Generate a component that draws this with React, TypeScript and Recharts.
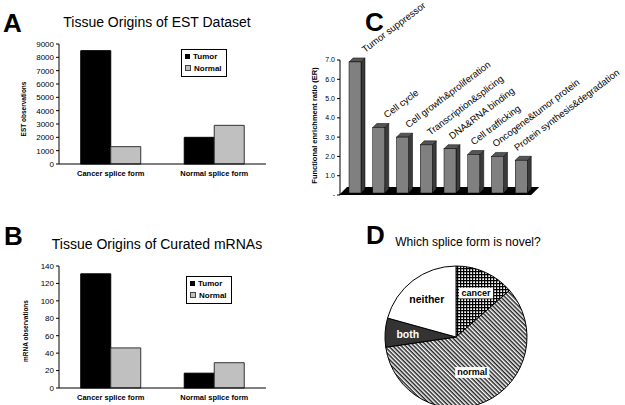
import React from "react";
import {
  BarChart,
  Bar,
  XAxis,
  YAxis,
  Legend,
  LabelList,
  PieChart,
  Pie,
  Cell,
} from "recharts";

// ---------------------------------------------------------------------------
// Data
// ---------------------------------------------------------------------------

const SPLICE_FORMS = ["Cancer splice form", "Normal splice form"];

const EST_TUMOR = [8500, 2000];
const EST_NORMAL = [1300, 2900];
const EST_TICKS = [0, 1000, 2000, 3000, 4000, 5000, 6000, 7000, 8000, 9000];

const MRNA_TUMOR = [131, 17];
const MRNA_NORMAL = [46, 29];
const MRNA_TICKS = [0, 20, 40, 60, 80, 100, 120, 140];

const FUNCTIONS = [
  "Tumor suppressor",
  "Cell cycle",
  "Cell growth&proliferation",
  "Transcription&splicing",
  "DNA&RNA binding",
  "Cell trafficking",
  "Oncogene&tumor protein",
  "Protein synthesis&degradation",
];
const ER_VALUES = [6.9, 3.5, 3.0, 2.6, 2.4, 2.1, 2.0, 1.8];
const ER_TICKS = [0, 1, 2, 3, 4, 5, 6, 7];

const NOVEL_FORMS = ["cancer", "normal", "both", "neither"];
const NOVEL_SHARES = [13.6, 59.1, 6.6, 20.7];

// ---------------------------------------------------------------------------
// Constants
// ---------------------------------------------------------------------------

const FONT = '"Liberation Sans", Arial, sans-serif';
const TUMOR_COLOR = "#000000";
const NORMAL_COLOR = "#c0c0c0";
const PIE_FILLS: Record<string, string> = {
  cancer: "url(#gridPat)",
  normal: "url(#diagPat)",
  both: "#333333",
  neither: "#ffffff",
};

// ---------------------------------------------------------------------------
// Helpers
// ---------------------------------------------------------------------------

function AxisTitle(props: any) {
  const vb = props.viewBox || { x: 0, y: 0, width: 0, height: 0 };
  const cx = vb.x + vb.width / 2 + (props.dx || 0);
  const cy = vb.y + vb.height / 2 + (props.dy || 0);
  return (
    <text
      x={cx}
      y={cy}
      transform={`rotate(-90 ${cx} ${cy})`}
      textAnchor="middle"
      dominantBaseline="middle"
      fontFamily={FONT}
      fontWeight="bold"
      fontSize={props.size}
      fill="#000"
    >
      {props.text}
    </text>
  );
}

const renderLegend = () => (
  <div
    style={{
      border: "1px solid #000",
      background: "#fff",
      padding: "1px 4px 1px 3px",
      fontFamily: FONT,
      fontSize: 8,
      fontWeight: "bold",
      lineHeight: "12px",
      color: "#000",
    }}
  >
    <div>
      <span
        style={{
          display: "inline-block",
          width: 5,
          height: 5,
          background: TUMOR_COLOR,
          marginRight: 3,
        }}
      />
      Tumor
    </div>
    <div>
      <span
        style={{
          display: "inline-block",
          width: 4,
          height: 4,
          background: NORMAL_COLOR,
          border: "1px solid #444",
          marginRight: 3,
        }}
      />
      Normal
    </div>
  </div>
);

interface OriginProps {
  tumor: number[];
  normal: number[];
  ticks: number[];
  yLabel: string;
  top: number;
  height: number;
  legendPos: { left: number; top: number };
  labelShift: { dx: number; dy: number };
}

function OriginChart({
  tumor,
  normal,
  ticks,
  yLabel,
  top,
  height,
  legendPos,
  labelShift,
}: OriginProps) {
  const data = SPLICE_FORMS.map((form, i) => ({
    form,
    tumor: tumor[i],
    normal: normal[i],
  }));
  return (
    <div style={{ position: "absolute", left: 0, top }}>
      <BarChart
        width={300}
        height={height}
        data={data}
        margin={{ top: 44, right: 34, bottom: 6, left: 0 }}
        barCategoryGap="21%"
        barGap={0}
      >
        <XAxis
          dataKey="form"
          tickLine={false}
          axisLine={{ stroke: "#000" }}
          tickSize={5}
          tickMargin={2}
          tick={{ fontSize: 7.5, fontWeight: "bold", fill: "#000", fontFamily: FONT }}
        />
        <YAxis
          width={59}
          domain={[0, ticks[ticks.length - 1]]}
          ticks={ticks}
          interval={0}
          tickSize={3}
          axisLine={{ stroke: "#000" }}
          tickLine={{ stroke: "#000" }}
          tick={{ fontSize: 8, fill: "#000", fontFamily: FONT }}
          label={
            <AxisTitle
              text={yLabel}
              size={6.5}
              dx={labelShift.dx}
              dy={labelShift.dy}
            />
          }
        />
        <Legend
          layout="vertical"
          align="center"
          verticalAlign="middle"
          content={renderLegend}
          wrapperStyle={{ left: legendPos.left, top: legendPos.top, width: "auto" }}
        />
        <Bar
          dataKey="tumor"
          name="Tumor"
          fill={TUMOR_COLOR}
          stroke="#000"
          strokeWidth={1}
          isAnimationActive={false}
        />
        <Bar
          dataKey="normal"
          name="Normal"
          fill={NORMAL_COLOR}
          stroke="#333"
          strokeWidth={1}
          isAnimationActive={false}
        />
      </BarChart>
    </div>
  );
}

// 3D-looking bar: front face, top and side faces
function Bar3D(props: any) {
  const { x, y, width, height } = props;
  if (height == null || height <= 0) return null;
  const base = y + height;
  const fw = width * 0.5;
  const fx = x + (width - fw) / 2 + 3;
  const d = 4;
  const bottom = base - 2;
  return (
    <g>
      <polygon
        points={`${fx + fw},${y} ${fx + fw + d},${y - d} ${fx + fw + d},${bottom - d} ${fx + fw},${bottom}`}
        fill="#3a3a3a"
        stroke="#000"
        strokeWidth={0.5}
      />
      <polygon
        points={`${fx},${y} ${fx + d},${y - d} ${fx + fw + d},${y - d} ${fx + fw},${y}`}
        fill="#555555"
        stroke="#000"
        strokeWidth={0.5}
      />
      <rect
        x={fx}
        y={y}
        width={fw}
        height={bottom - y}
        fill="#808080"
        stroke="#000"
        strokeWidth={0.5}
      />
    </g>
  );
}

// black floor segment under every category
function Floor(props: any) {
  const { x, y, width, height } = props;
  const base = y + height;
  const d = 8;
  const l = x - 1;
  const r = x + width + 1;
  return (
    <polygon
      points={`${l},${base} ${r},${base} ${r + d},${base - d} ${l + d},${base - d}`}
      fill="#000"
    />
  );
}

const renderFnLabel = (props: any) => {
  const vb = props.viewBox || props;
  const i = props.index || 0;
  const sx = vb.x + vb.width / 2 + 13 - 2 * i;
  const sy = vb.y - 9;
  return (
    <text
      x={sx}
      y={sy}
      transform={`rotate(-37 ${sx} ${sy})`}
      fontSize={9.5}
      fontFamily={FONT}
      fill="#000"
    >
      {props.value}
    </text>
  );
};

function EnrichmentChart() {
  const data = FUNCTIONS.map((fn, i) => ({ fn, er: ER_VALUES[i] }));
  return (
    <div style={{ position: "absolute", left: 300, top: 0 }}>
      <BarChart
        width={325}
        height={215}
        data={data}
        margin={{ top: 60, right: 95, bottom: 20, left: 0 }}
        barCategoryGap={0}
      >
        <XAxis dataKey="fn" hide />
        <YAxis
          width={40}
          domain={[0, 7]}
          ticks={ER_TICKS}
          interval={0}
          tickSize={3}
          axisLine={{ stroke: "#000" }}
          tickLine={{ stroke: "#000" }}
          tick={{ fontSize: 7, fill: "#000", fontFamily: FONT }}
          tickFormatter={(v: number) => (v === 0 ? "-" : v.toFixed(1))}
          label={
            <AxisTitle
              text="Functional enrichment ratio (ER)"
              size={7.5}
              dx={-5}
              dy={-2}
            />
          }
        />
        <Bar
          dataKey="er"
          shape={<Bar3D />}
          background={<Floor />}
          isAnimationActive={false}
        >
          <LabelList dataKey="fn" content={renderFnLabel} />
        </Bar>
      </BarChart>
    </div>
  );
}

const RADIAN = Math.PI / 180;

const renderPieLabel = (props: any) => {
  const { cx, cy, midAngle, outerRadius, name } = props;
  const r = outerRadius * (name === "normal" ? 0.55 : 0.68);
  const x = cx + r * Math.cos(-midAngle * RADIAN);
  const y = cy + r * Math.sin(-midAngle * RADIAN);
  const boxed = name === "cancer" || name === "normal";
  const size = boxed ? 9 : 10.5;
  const w = name.length * size * 0.56 + 4;
  return (
    <g>
      {boxed && (
        <rect x={x - w / 2} y={y - size * 0.6} width={w} height={size * 1.2} fill="#fff" />
      )}
      <text
        x={x}
        y={y}
        textAnchor="middle"
        dominantBaseline="central"
        fontFamily={FONT}
        fontWeight="bold"
        fontSize={size}
        fill={name === "both" ? "#fff" : "#000"}
      >
        {name}
      </text>
    </g>
  );
};

function NovelPie() {
  const data = NOVEL_FORMS.map((name, i) => ({ name, share: NOVEL_SHARES[i] }));
  return (
    <div style={{ position: "absolute", left: 370, top: 250 }}>
      <PieChart width={170} height={155}>
        <defs>
          <pattern id="gridPat" width="3" height="3" patternUnits="userSpaceOnUse">
            <rect width="3" height="3" fill="#fff" />
            <path d="M0 0.6H3M0.6 0V3" stroke="#000" strokeWidth="1.3" />
          </pattern>
          <pattern
            id="diagPat"
            width="3"
            height="3"
            patternUnits="userSpaceOnUse"
            patternTransform="rotate(45)"
          >
            <rect width="3" height="3" fill="#fff" />
            <rect width="3" height="1.5" fill="#222" />
          </pattern>
        </defs>
        <Pie
          data={data}
          dataKey="share"
          nameKey="name"
          cx={81}
          cy={82}
          outerRadius={71}
          startAngle={90}
          endAngle={-270}
          stroke="#000"
          strokeWidth={1}
          label={renderPieLabel}
          labelLine={false}
          isAnimationActive={false}
        >
          {data.map((d) => (
            <Cell key={d.name} fill={PIE_FILLS[d.name]} />
          ))}
        </Pie>
      </PieChart>
    </div>
  );
}

function TextAt({
  left,
  top,
  width,
  size,
  bold,
  align,
  children,
}: {
  left: number;
  top: number;
  width?: number;
  size: number;
  bold?: boolean;
  align?: "left" | "center";
  children: React.ReactNode;
}) {
  return (
    <div
      style={{
        position: "absolute",
        left,
        top,
        width,
        fontFamily: FONT,
        fontSize: size,
        fontWeight: bold ? "bold" : "normal",
        lineHeight: 1,
        textAlign: align || "left",
        whiteSpace: "nowrap",
        color: "#000",
      }}
    >
      {children}
    </div>
  );
}

// ---------------------------------------------------------------------------
// Component
// ---------------------------------------------------------------------------

export default function App() {
  return (
    <div
      style={{
        position: "absolute",
        left: 0,
        top: 0,
        width: 625,
        height: 405,
        background: "#fff",
        overflow: "hidden",
      }}
    >
      <OriginChart
        tumor={EST_TUMOR}
        normal={EST_NORMAL}
        ticks={EST_TICKS}
        yLabel="EST observations"
        top={0}
        height={200}
        legendPos={{ left: 181, top: 49 }}
        labelShift={{ dx: -5.5, dy: 5 }}
      />
      <OriginChart
        tumor={MRNA_TUMOR}
        normal={MRNA_NORMAL}
        ticks={MRNA_TICKS}
        yLabel="mRNA observations"
        top={222}
        height={202}
        legendPos={{ left: 186, top: 54 }}
        labelShift={{ dx: -3.5, dy: 4 }}
      />
      <EnrichmentChart />
      <NovelPie />

      <TextAt left={0} top={15} width={314} size={14} align="center">
        Tissue Origins of EST Dataset
      </TextAt>
      <TextAt left={0} top={237} width={314} size={14} align="center">
        Tissue Origins of Curated mRNAs
      </TextAt>
      <TextAt left={368} top={236} width={200} size={12} align="center">
        Which splice form is novel?
      </TextAt>

      <TextAt left={3} top={10} size={26} bold>
        A
      </TextAt>
      <TextAt left={4} top={223} size={26} bold>
        B
      </TextAt>
      <TextAt left={365} top={9} size={26} bold>
        C
      </TextAt>
      <TextAt left={366} top={222} size={26} bold>
        D
      </TextAt>
    </div>
  );
}
